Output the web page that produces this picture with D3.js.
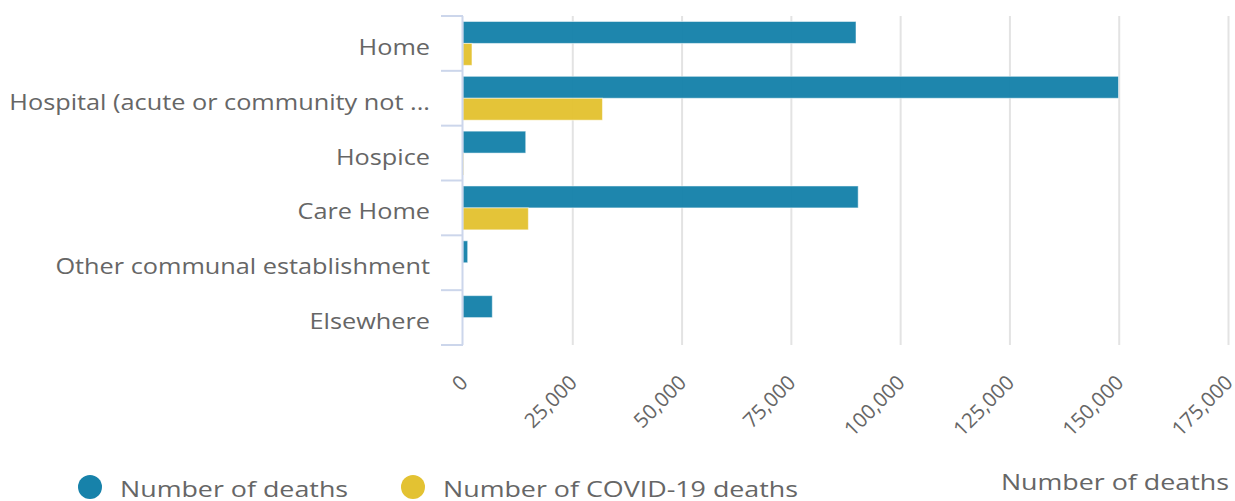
<!DOCTYPE html>
<html>
<head>
<meta charset="utf-8">
<script src="https://cdn.jsdelivr.net/npm/d3@7/dist/d3.min.js"></script>
<style>
  html, body { margin: 0; padding: 0; background: #fff; }
  svg { display: block; font-family: "Open Sans", sans-serif; }
</style>
</head>
<body>
<svg id="chart" width="1235" height="501"></svg>
<script>
// Place of death categories
const categories = [
  "Home",
  "Hospital (acute or community not ...",
  "Hospice",
  "Care Home",
  "Other communal establishment",
  "Elsewhere"
];
// All deaths by place of occurrence
const deathsAll = [89900, 149950, 14350, 90400, 1070, 6700];
// Deaths involving COVID-19
const deathsCovid = [2050, 31900, 150, 14950, 0, 0];
const seriesNames = ["Number of deaths", "Number of COVID-19 deaths"];
const seriesColors = ["#1782aa", "#e3c232"];
const xTicks = [0, 25000, 50000, 75000, 100000, 125000, 150000, 175000];

const svg = d3.select("#chart");
const plotLeft = 463, plotRight = 1228, plotTop = 16, plotBottom = 345;
const textColor = "#666666";

const x = d3.scaleLinear().domain([0, 175000]).range([plotLeft, plotRight]);
const yBand = d3.scaleBand().domain(categories).range([plotTop, plotBottom]).padding(0);
const groupPad = yBand.bandwidth() * 0.1;
const inner = d3.scaleBand().domain([0, 1]).range([0, yBand.bandwidth() - 2 * groupPad]);

// vertical grid lines
svg.append("g").selectAll("line").data(xTicks.slice(1)).join("line")
  .attr("x1", d => x(d) + 0.5).attr("x2", d => x(d) + 0.5)
  .attr("y1", plotTop).attr("y2", plotBottom)
  .attr("stroke", "#e3e3e3").attr("stroke-width", 2);

// bars
const series = [deathsAll, deathsCovid];
series.forEach((vals, si) => {
  svg.append("g").selectAll("rect").data(categories).join("rect")
    .attr("x", x(0))
    .attr("y", c => yBand(c) + groupPad + inner(si))
    .attr("width", (c, i) => x(vals[i]) - x(0))
    .attr("height", inner.bandwidth())
    .attr("fill", seriesColors[si])
    .attr("fill-opacity", 0.97)
    .attr("stroke", "#ffffff").attr("stroke-opacity", 0.5).attr("stroke-width", 1);
});

// category axis line and boundary ticks
svg.append("line")
  .attr("x1", plotLeft - 0.5).attr("x2", plotLeft - 0.5)
  .attr("y1", plotTop).attr("y2", plotBottom)
  .attr("stroke", "#ccd6eb").attr("stroke-width", 2);
const bounds = categories.map(c => yBand(c)).concat([plotBottom]);
svg.append("g").selectAll("line").data(bounds).join("line")
  .attr("x1", plotLeft - 22).attr("x2", plotLeft)
  .attr("y1", d => d).attr("y2", d => d)
  .attr("stroke", "#ccd6eb").attr("stroke-width", 2);

// category labels (slightly widened face)
const catScale = 1.15;
svg.append("g").selectAll("text").data(categories).join("text")
  .attr("transform", c => `translate(430,${yBand(c) + yBand.bandwidth() / 2 + 11.5}) scale(${catScale},1)`)
  .attr("text-anchor", "end")
  .attr("fill", textColor).style("font-size", "22px")
  .text(c => c);

// value axis labels, rotated
const fmt = d3.format(",");
svg.append("g").selectAll("text").data(xTicks).join("text")
  .attr("transform", d => `translate(${x(d) + 6},${plotBottom + 39}) rotate(-45)`)
  .attr("text-anchor", "end")
  .attr("fill", textColor).style("font-size", "20.5px")
  .text(d => fmt(d));

// axis title
svg.append("text")
  .attr("transform", "translate(1229,490) scale(1.22,1)")
  .attr("text-anchor", "end")
  .attr("fill", textColor).style("font-size", "22px").text("Number of deaths");

// legend
const legendX = [90, 413];
seriesNames.forEach((name, i) => {
  svg.append("circle").attr("cx", legendX[i]).attr("cy", 487).attr("r", 12).attr("fill", seriesColors[i]);
  svg.append("text")
    .attr("transform", `translate(${legendX[i] + 30},497) scale(1.22,1)`)
    .attr("fill", textColor).style("font-size", "22px").text(name);
});
</script>
</body>
</html>
